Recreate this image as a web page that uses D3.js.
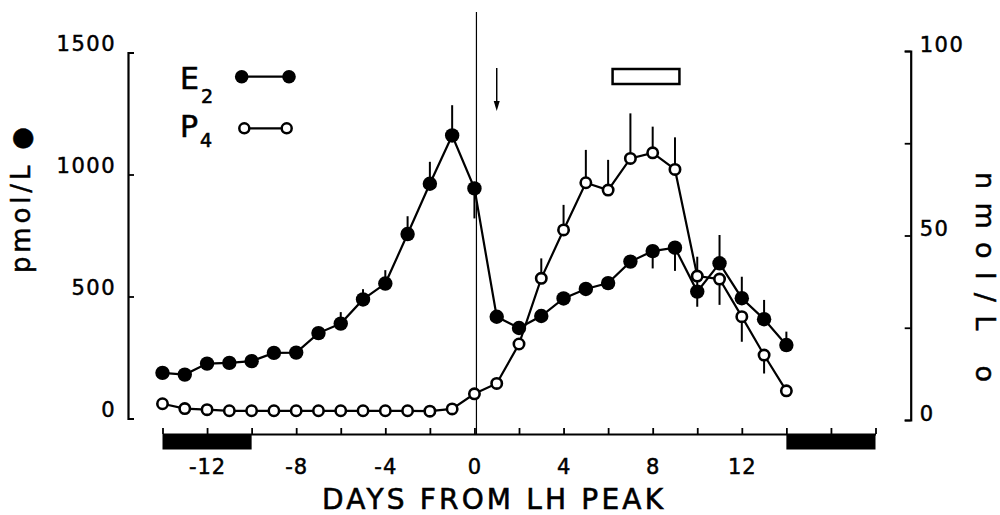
<!DOCTYPE html>
<html>
<head>
<meta charset="utf-8">
<script src="https://cdn.jsdelivr.net/npm/d3@7"></script>
<style>
  html, body { margin: 0; padding: 0; background: #fff; }
  svg { display: block; }
  text { font-family: "DejaVu Sans", "Liberation Sans", sans-serif; fill: #000; }
</style>
</head>
<body>
<svg id="chart" width="1000" height="515"></svg>
<script>
// Days relative to the LH peak
const days = [-14, -13, -12, -11, -10, -9, -8, -7, -6, -5, -4, -3, -2, -1, 0,
              1, 2, 3, 4, 5, 6, 7, 8, 9, 10, 11, 12, 13, 14];

// Oestradiol (pmol/L, left axis)
const e2 = [187, 180, 225, 228, 235, 269, 270, 350, 389, 488, 553, 756, 962, 1160, 943,
            417, 371, 420, 492, 531, 555, 643, 686, 700, 520, 636, 493, 407, 301];
// Upper / lower ends of the E2 error bars (null = no bar drawn)
const e2Upper = [null, null, null, null, null, null, null, null, 436, 530, 608, 829, 1052, 1284, null,
                 null, null, null, null, null, null, null, null, null, 663, 752, 581, 486, 356];
const e2Lower = [null, null, null, null, null, null, null, null, null, null, null, null, null, null, 820,
                 null, null, null, null, null, null, null, 615, 605, 458, null, null, null, null];

// Progesterone (nmol/L, right axis)
const p4 = [4.4, 3.1, 2.8, 2.5, 2.5, 2.5, 2.5, 2.5, 2.5, 2.5, 2.5, 2.5, 2.4, 3.0, 7.1,
            9.9, 20.6, 38.4, 51.5, 64.3, 62.3, 70.9, 72.4, 67.9, 39.0, 38.2, 28.0, 17.6, 7.9];
const p4Upper = [null, null, null, null, null, null, null, null, null, null, null, null, null, null, null,
                 null, null, 43.8, 58.3, 73.2, 70.5, 83.1, 79.5, 76.6, null, null, null, null, null];
const p4Lower = [null, null, null, null, null, null, null, null, null, null, null, null, null, null, null,
                 null, null, null, null, null, null, null, null, null, null, 31.2, 21.2, 12.6, null];

// Axis ticks and labels
const xTicks = [-14, -12, -10, -8, -6, -4, -2, 0, 2, 4, 6, 8, 10, 12, 14, 16, 18];
const xTickLabels = [-12, -8, -4, 0, 4, 8, 12];
const leftTicks = [0, 500, 1000, 1500];
const rightTicks = [0, 25, 50, 75, 100];
const rightTickLabels = [0, 50, 100];

// Annotations: menstruation bars, arrow, luteal box
const menses = [[-14, -10], [14, 18]];
const arrowDay = 1;
const lutealBox = [6.2, 9.2];

const svg = d3.select("#chart");
svg.append("rect").attr("width", 1000).attr("height", 515).attr("fill", "#fff");

const x = d3.scaleLinear().domain([-14, 18]).range([162.5, 875.5]);
const yL = d3.scaleLinear().domain([0, 1500]).range([418.5, 52.5]);
const yR = d3.scaleLinear().domain([0, 100]).range([420, 51]);

const axisY = 434;
const leftX = 128;
const rightX = 910.7;

// ---------- Axes ----------
const gx = svg.append("g").attr("transform", `translate(0,${axisY})`)
  .call(d3.axisBottom(x).tickValues(xTicks).tickSizeInner(-6).tickSizeOuter(0)
    .tickFormat(d => xTickLabels.includes(d) ? (d < 0 ? "-" + (-d) : String(d)) : ""));
gx.select(".domain").attr("stroke", "#000").attr("stroke-width", 2.2);
gx.selectAll(".tick line").attr("stroke", "#000").attr("stroke-width", 1.8);
gx.selectAll(".tick text").attr("y", 40).attr("dy", 0)
  .style("font-size", "21px").style("letter-spacing", "1px")
  .style("stroke", "#000").style("stroke-width", "0.5px").attr("fill", "#000");

// Menstruation bars under the x axis
svg.append("g").selectAll("rect").data(menses).join("rect")
  .attr("x", d => x(d[0])).attr("y", axisY)
  .attr("width", d => x(d[1]) - x(d[0])).attr("height", 15.5)
  .attr("fill", "#000");

const gl = svg.append("g").attr("transform", `translate(${leftX},0)`)
  .call(d3.axisLeft(yL).tickValues(leftTicks).tickSizeInner(-6).tickSizeOuter(-6).tickPadding(12)
    .tickFormat(d => String(d)));
gl.select(".domain").attr("stroke", "#000").attr("stroke-width", 2.2);
gl.selectAll(".tick line").attr("stroke", "#000").attr("stroke-width", 1.8);
gl.selectAll(".tick text").attr("dy", -2).style("font-size", "21px").style("letter-spacing", "1.5px")
  .style("stroke", "#000").style("stroke-width", "0.5px").attr("fill", "#000");

const gr = svg.append("g").attr("transform", `translate(${rightX},0)`)
  .call(d3.axisRight(yR).tickValues(rightTicks).tickSizeInner(-6).tickSizeOuter(-6).tickPadding(9)
    .tickFormat(d => rightTickLabels.includes(d) ? String(d) : ""));
gr.select(".domain").attr("stroke", "#000").attr("stroke-width", 2.2);
gr.selectAll(".tick line").attr("stroke", "#000").attr("stroke-width", 1.8);
gr.selectAll(".tick text").attr("dy", 0).style("font-size", "21px").style("letter-spacing", "1.5px")
  .style("stroke", "#000").style("stroke-width", "0.5px").attr("fill", "#000");

// Axis titles
svg.append("text")
  .attr("transform", "translate(30,200) rotate(-90)")
  .attr("text-anchor", "middle")
  .attr("textLength", 146).attr("lengthAdjust", "spacing")
  .style("font-size", "26px").style("stroke", "#000").style("stroke-width", "0.5px")
  .text("pmol/L ●");

svg.append("text")
  .attr("transform", "translate(976,277) rotate(90)")
  .attr("text-anchor", "middle")
  .attr("textLength", 210).attr("lengthAdjust", "spacing")
  .style("font-size", "27px").style("stroke", "#000").style("stroke-width", "0.5px")
  .text("nmol/L o");

svg.append("text")
  .attr("x", 492.5).attr("y", 509)
  .attr("text-anchor", "middle")
  .attr("textLength", 341).attr("lengthAdjust", "spacing")
  .style("font-size", "28px").style("stroke", "#000").style("stroke-width", "0.6px")
  .text("DAYS FROM LH PEAK");

// ---------- Reference marks ----------
// LH peak line
svg.append("line")
  .attr("x1", x(0) + 2).attr("x2", x(0) + 2).attr("y1", 12).attr("y2", axisY)
  .attr("stroke", "#000").attr("stroke-width", 1.2);

// Arrow at day 1
svg.append("line")
  .attr("x1", x(arrowDay)).attr("x2", x(arrowDay)).attr("y1", 68).attr("y2", 104)
  .attr("stroke", "#000").attr("stroke-width", 1.5);
svg.append("path")
  .attr("d", `M${x(arrowDay) - 3},101 L${x(arrowDay) + 3},101 L${x(arrowDay)},111 Z`)
  .attr("fill", "#000");

// Luteal box
svg.append("rect")
  .attr("x", x(lutealBox[0])).attr("y", 69)
  .attr("width", x(lutealBox[1]) - x(lutealBox[0])).attr("height", 15)
  .attr("fill", "#fff").attr("stroke", "#000").attr("stroke-width", 2.5);

// ---------- Data ----------
const e2Pts = days.map((d, i) => ({ d, v: e2[i], hi: e2Upper[i], lo: e2Lower[i] }));
const p4Pts = days.map((d, i) => ({ d, v: p4[i], hi: p4Upper[i], lo: p4Lower[i] }));

// E2 error bars
const e2Bars = svg.append("g").attr("stroke", "#000").attr("stroke-width", 2);
e2Bars.selectAll("line.up").data(e2Pts.filter(p => p.hi != null)).join("line")
  .attr("class", "up")
  .attr("x1", p => x(p.d)).attr("x2", p => x(p.d))
  .attr("y1", p => yL(p.v)).attr("y2", p => yL(p.hi));
e2Bars.selectAll("line.down").data(e2Pts.filter(p => p.lo != null)).join("line")
  .attr("class", "down")
  .attr("x1", p => x(p.d)).attr("x2", p => x(p.d))
  .attr("y1", p => yL(p.v)).attr("y2", p => yL(p.lo));

// E2 line and markers
svg.append("path").datum(e2Pts)
  .attr("fill", "none").attr("stroke", "#000").attr("stroke-width", 2.2)
  .attr("d", d3.line().x(p => x(p.d)).y(p => yL(p.v)));
svg.append("g").selectAll("circle").data(e2Pts).join("circle")
  .attr("cx", p => x(p.d)).attr("cy", p => yL(p.v)).attr("r", 7.2)
  .attr("fill", "#000");

// P4 error bars
const p4Bars = svg.append("g").attr("stroke", "#000").attr("stroke-width", 2);
p4Bars.selectAll("line.up").data(p4Pts.filter(p => p.hi != null)).join("line")
  .attr("class", "up")
  .attr("x1", p => x(p.d)).attr("x2", p => x(p.d))
  .attr("y1", p => yR(p.v)).attr("y2", p => yR(p.hi));
p4Bars.selectAll("line.down").data(p4Pts.filter(p => p.lo != null)).join("line")
  .attr("class", "down")
  .attr("x1", p => x(p.d)).attr("x2", p => x(p.d))
  .attr("y1", p => yR(p.v)).attr("y2", p => yR(p.lo));

// P4 line and markers
svg.append("path").datum(p4Pts)
  .attr("fill", "none").attr("stroke", "#000").attr("stroke-width", 2.2)
  .attr("d", d3.line().x(p => x(p.d)).y(p => yR(p.v)));
svg.append("g").selectAll("circle").data(p4Pts).join("circle")
  .attr("cx", p => x(p.d)).attr("cy", p => yR(p.v)).attr("r", 5.2)
  .attr("fill", "#fff").attr("stroke", "#000").attr("stroke-width", 2.6);

// ---------- Legend ----------
const leg = svg.append("g");
const e2Label = leg.append("text").attr("x", 180).attr("y", 89)
  .style("font-size", "30px").style("stroke", "#000").style("stroke-width", "0.6px");
e2Label.append("tspan").text("E");
e2Label.append("tspan").attr("dx", 2).attr("dy", 14).style("font-size", "19px").text("2");
leg.append("line").attr("x1", 241.7).attr("x2", 289).attr("y1", 76.7).attr("y2", 76.7)
  .attr("stroke", "#000").attr("stroke-width", 2.2);
leg.selectAll("circle.e").data([241.7, 289]).join("circle").attr("class", "e")
  .attr("cx", d => d).attr("cy", 76.7).attr("r", 6.8).attr("fill", "#000");

const p4Label = leg.append("text").attr("x", 180).attr("y", 137)
  .style("font-size", "30px").style("stroke", "#000").style("stroke-width", "0.6px");
p4Label.append("tspan").text("P");
p4Label.append("tspan").attr("dx", 2).attr("dy", 10).style("font-size", "19px").text("4");
leg.append("line").attr("x1", 244.3).attr("x2", 286.7).attr("y1", 128.3).attr("y2", 128.3)
  .attr("stroke", "#000").attr("stroke-width", 2.2);
leg.selectAll("circle.p").data([244.3, 286.7]).join("circle").attr("class", "p")
  .attr("cx", d => d).attr("cy", 128.3).attr("r", 5)
  .attr("fill", "#fff").attr("stroke", "#000").attr("stroke-width", 2.5);
</script>
</body>
</html>
